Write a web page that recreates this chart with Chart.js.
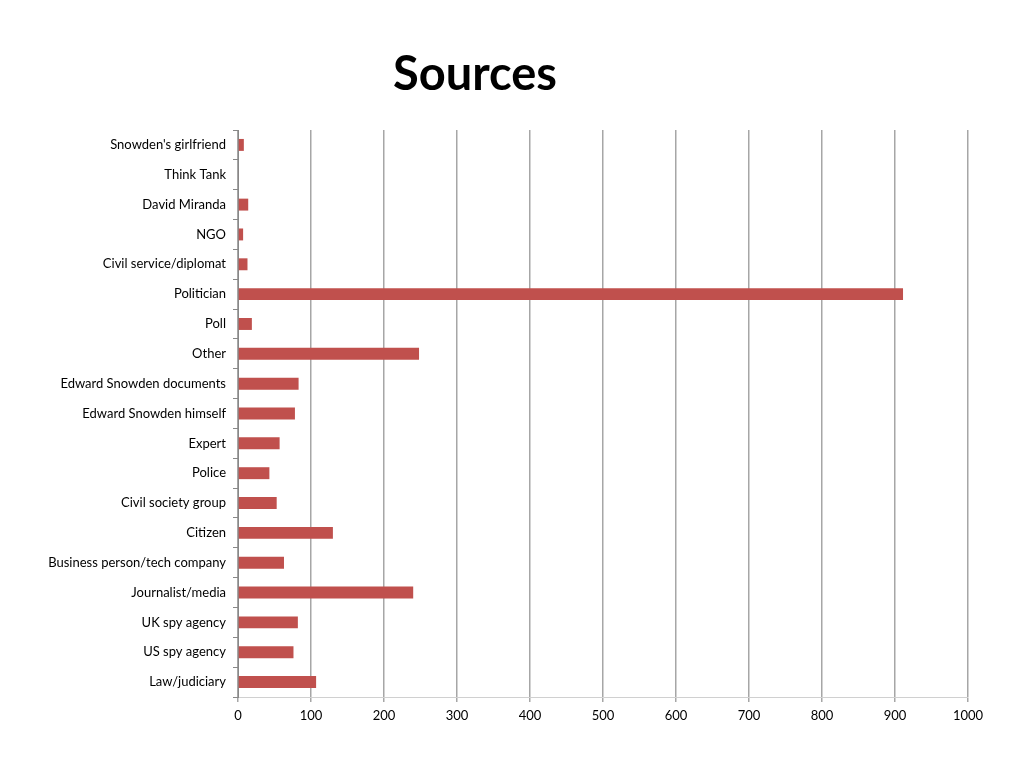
<!DOCTYPE html>
<html>
<head>
<meta charset="utf-8">
<title>Sources</title>
<script src="https://cdn.jsdelivr.net/npm/chart.js@4"></script>
<style>
  body { margin: 0; background: #fff; }
  canvas { display: block; }
</style>
</head>
<body>
<canvas id="sourcesChart" width="1024" height="768"></canvas>
<script>
/* =========================
   DATA (top row first)
========================= */
const categories = [
  "Snowden's girlfriend", "Think Tank", "David Miranda", "NGO",
  "Civil service/diplomat", "Politician", "Poll", "Other",
  "Edward Snowden documents", "Edward Snowden himself", "Expert", "Police",
  "Civil society group", "Citizen", "Business person/tech company",
  "Journalist/media", "UK spy agency", "US spy agency", "Law/judiciary"
];
const counts = [8, 1, 14, 7, 13, 911, 19, 248, 83, 78, 57, 43, 53, 130, 63, 240, 82, 76, 107];
const xTicks = [0, 100, 200, 300, 400, 500, 600, 700, 800, 900, 1000];
const titleText = "Sources";

/* =========================
   TITLE (drawn off-centre like the original)
========================= */
const titlePlugin = {
  id: "sourcesTitle",
  afterDraw(chart) {
    const c = chart.ctx;
    c.save();
    c.font = "bold 47px Lato, 'Open Sans', sans-serif";
    c.fillStyle = "#000";
    c.textAlign = "center";
    c.textBaseline = "middle";
    c.fillText(titleText, 475, 75);
    c.restore();
  }
};

/* =========================
   CHART
========================= */
Chart.defaults.font.family = "Lato, 'Open Sans', sans-serif";
Chart.defaults.color = "#000";

new Chart(document.getElementById("sourcesChart"), {
  type: "bar",
  data: {
    labels: categories,
    datasets: [{
      data: counts,
      backgroundColor: "#C0504D",
      borderWidth: 0,
      barPercentage: 0.4,
      categoryPercentage: 1.0
    }]
  },
  plugins: [titlePlugin],
  options: {
    indexAxis: "y",
    responsive: false,
    animation: false,
    layout: { padding: { top: 130, right: 56, left: 0, bottom: 0 } },
    plugins: {
      legend: { display: false },
      tooltip: { enabled: false }
    },
    scales: {
      x: {
        min: 0,
        max: 1000,
        afterBuildTicks: s => { s.ticks = xTicks.map(v => ({ value: v })); },
        afterFit: s => { s.height = 71; },
        grid: { color: "#A6A6A6", lineWidth: 1.5, tickLength: 5 },
        border: { color: "#D0D0D0", width: 1 },
        ticks: { font: { size: 13 }, padding: 6, maxRotation: 0, callback: v => String(v) }
      },
      y: {
        afterFit: s => { s.width = 238; },
        grid: { offset: true, drawOnChartArea: false, color: "#888", tickLength: 5 },
        border: { color: "#888", width: 1 },
        ticks: { font: { size: 13 }, padding: 7 }
      }
    }
  }
});
</script>
</body>
</html>
